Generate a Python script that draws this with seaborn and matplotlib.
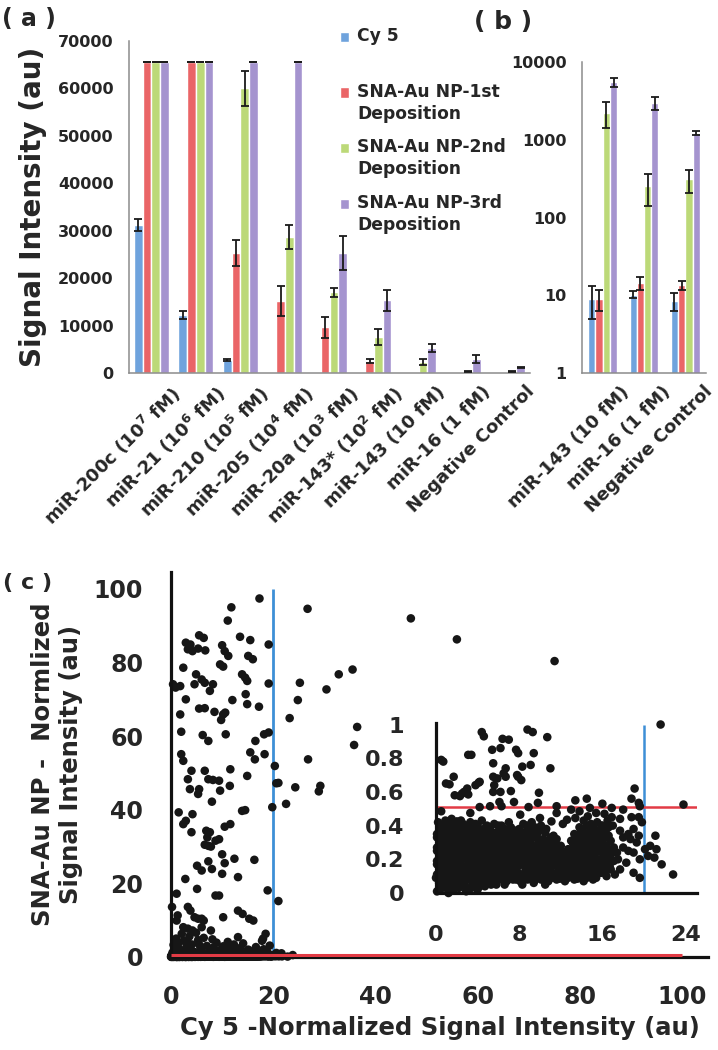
import numpy as np
import pandas as pd
import matplotlib
matplotlib.use("Agg")
import matplotlib.pyplot as plt
from matplotlib.ticker import FuncFormatter, NullLocator
from matplotlib.transforms import ScaledTranslation
import seaborn as sns

# ---------------- Panel (a) data ----------------
cats_a = [r'miR-200c (10$^{\mathbf{7}}$ fM)', r'miR-21 (10$^{\mathbf{6}}$ fM)',
          r'miR-210 (10$^{\mathbf{5}}$ fM)', r'miR-205 (10$^{\mathbf{4}}$ fM)',
          r'miR-20a (10$^{\mathbf{3}}$ fM)', r'miR-143* (10$^{\mathbf{2}}$ fM)',
          'miR-143 (10 fM)', 'miR-16 (1 fM)', 'Negative Control']
series = ['Cy 5', 'SNA-Au NP-1st Deposition', 'SNA-Au NP-2nd Deposition',
          'SNA-Au NP-3rd Deposition']
legend_labels = ['Cy 5\n ', 'SNA-Au NP-1st\nDeposition', 'SNA-Au NP-2nd\nDeposition',
                 'SNA-Au NP-3rd\nDeposition']
colors = ['#6fa3dd', '#ea6567', '#bcd978', '#a594cf']

nan = np.nan
cy5_a = [31200, 12200, 2800, 150, 200, 200, 100, 10, 8]
dep1_a = [65535, 65535, 25300, 15200, 9600, 2500, 120, 15, 13]
dep2_a = [65535, 65535, 60000, 28600, 17000, 7600, 2300, 250, 300]
dep3_a = [65535, 65535, 65535, 65535, 25300, 15300, 5300, 2900, 1200]
cy5_a_err = [1300, 800, 250, nan, nan, nan, nan, nan, nan]
dep1_a_err = [0, 0, 2800, 3200, 2300, 450, nan, nan, nan]
dep2_a_err = [0, 0, 3600, 2500, 1000, 1600, 700, 100, 100]
dep3_a_err = [0, 0, 0, 0, 3500, 2300, 850, 800, 100]
yticks_a = [0, 10000, 20000, 30000, 40000, 50000, 60000, 70000]

# ---------------- Panel (b) data ----------------
cats_b = ['miR-143 (10 fM)', 'miR-16 (1 fM)', 'Negative Control']
cy5_b = [9.0, 10.2, 8.4]
dep1_b = [9.0, 14.4, 13.6]
dep2_b = [2230, 252, 309]
dep3_b = [5500, 2990, 1230]
cy5_b_err = [4.0, 1.0, 2.2]
dep1_b_err = [2.8, 2.8, 1.8]
dep2_b_err = [800, 110, 100]
dep3_b_err = [800, 600, 70]
yticks_b = [1, 10, 100, 1000, 10000]

# ---------------- Panel (c) data ----------------
cy5_threshold = 20
sna_threshold = 0.51

outlier_pts = [
    (17.3, 97.4), (11.8, 95.0), (11.1, 91.4), (26.7, 94.6), (46.9, 92.0), (55.9, 86.3),
    (75.0, 80.4), (5.5, 87.4), (6.4, 86.7), (13.5, 87.0), (15.5, 86.1), (19.1, 84.9),
    (2.9, 85.4), (3.8, 84.9), (3.3, 83.6), (4.2, 83.1), (5.3, 83.8), (6.7, 83.3),
    (10.0, 84.7), (10.5, 83.1), (11.2, 81.8), (9.6, 79.5), (10.2, 78.9), (15.1, 81.8),
    (16.0, 80.9), (2.4, 78.6), (0.4, 74.1), (0.9, 73.2), (1.8, 73.6), (4.9, 76.8),
    (4.6, 74.1), (2.9, 70.0), (6.0, 75.4), (6.6, 74.5), (7.6, 72.3), (8.2, 74.1),
    (13.9, 76.8), (14.5, 75.9), (14.9, 75.0), (12.0, 69.8), (14.9, 68.7), (14.6, 71.4),
    (17.2, 68.0), (19.1, 74.3), (25.2, 74.5), (24.8, 69.8), (30.4, 72.7), (32.8, 76.8),
    (35.5, 78.1), (23.2, 64.9), (1.8, 65.9), (5.5, 67.5), (6.6, 67.6), (8.5, 66.6),
    (10.2, 65.9), (10.6, 66.4), (9.8, 64.4), (10.7, 60.5), (2.0, 61.2), (6.2, 60.3),
    (7.3, 58.7), (16.5, 58.7), (18.2, 60.5), (19.1, 61.0), (36.4, 62.5), (35.8, 57.6),
    (2.0, 55.1), (2.4, 53.3), (15.5, 55.6), (16.4, 53.7), (18.3, 55.1), (20.3, 51.9),
    (20.6, 47.2), (21.0, 47.3), (24.3, 46.1), (29.2, 46.5), (28.9, 45.0), (26.8, 53.7),
    (11.6, 51.0), (4.0, 50.6), (3.3, 48.3), (3.7, 45.6), (6.6, 50.6), (7.3, 48.3),
    (8.2, 48.1), (9.4, 47.9), (8.0, 42.2), (11.5, 46.5), (9.6, 45.2), (14.9, 49.2),
    (5.5, 45.6), (5.3, 44.3), (19.8, 40.7), (22.5, 41.6), (13.9, 39.7), (14.5, 39.9),
    (1.5, 39.3), (2.9, 37.0), (2.4, 36.1), (4.0, 33.9), (4.2, 38.8), (6.9, 34.3),
    (7.6, 33.9), (7.1, 32.5), (6.6, 30.5), (7.3, 30.2), (7.8, 30.0), (8.7, 31.6),
    (9.4, 32.0), (10.5, 35.4), (11.6, 36.1), (10.0, 27.9), (16.3, 26.4), (12.4, 26.7),
    (10.5, 25.5), (10.0, 22.6), (7.3, 26.0), (5.1, 24.8), (6.0, 23.5), (13.1, 21.7),
    (8.0, 23.9), (2.8, 21.2), (1.1, 17.2), (8.7, 16.7), (9.4, 16.7), (5.1, 18.5),
    (18.9, 18.1), (21.0, 15.2), (0.2, 13.6), (1.3, 11.3), (1.1, 9.9), (3.3, 13.6),
    (3.8, 12.6), (4.6, 10.8), (5.3, 10.4), (6.0, 10.4), (6.4, 9.9), (10.2, 10.8),
    (13.1, 12.6), (14.0, 11.7), (15.3, 10.4), (16.1, 9.9), (2.4, 8.1), (3.3, 7.7),
    (4.2, 7.2), (6.0, 8.1), (18.5, 6.3), (18.0, 5.0), (7.8, 7.2), (13.1, 5.4),
]

band_pts = [
    (0.3, 1.2), (0.8, 2.4), (1.4, 3.6), (1.9, 1.6), (2.5, 4.4), (3.0, 2.7), (3.6, 5.6),
    (4.1, 3.4), (4.7, 1.3), (5.3, 4.6), (5.8, 2.2), (6.4, 5.2), (7.0, 3.0), (7.7, 1.7),
    (8.3, 2.6), (8.9, 3.9), (9.6, 1.9), (10.2, 2.9), (10.9, 1.4), (11.6, 2.3), (12.3, 3.4),
    (12.9, 1.6), (13.6, 2.5), (14.3, 1.3), (15.1, 2.0), (15.9, 1.5), (16.6, 2.7),
    (17.3, 1.2), (18.1, 2.1), (18.8, 1.4), (19.3, 3.1), (2.1, 6.3), (1.0, 5.0), (4.9, 6.6),
    (8.1, 4.8), (11.1, 4.1), (14.1, 3.7), (17.8, 4.4), (20.6, 1.1), (21.6, 1.0),
    (1.7, 2.0), (2.8, 1.1), (3.9, 1.9), (6.1, 1.2), (9.2, 1.1), (12.0, 1.1), (15.6, 1.1),
    (5.6, 3.2), (0.5, 3.3), (3.3, 3.9),
]

upper_pts = [
    (4.4, 0.955), (4.6, 0.93), (8.8, 0.97), (9.3, 0.955), (10.7, 0.925), (6.4, 0.915),
    (7.0, 0.91), (6.2, 0.86), (5.4, 0.85), (7.7, 0.85), (7.9, 0.83), (9.4, 0.83),
    (3.1, 0.82), (3.4, 0.82), (0.5, 0.79), (0.7, 0.78), (8.3, 0.75), (11.0, 0.74),
    (5.5, 0.77), (6.5, 0.71), (6.7, 0.69), (7.9, 0.69), (8.2, 0.67), (1.7, 0.69),
    (0.96, 0.65), (1.3, 0.645), (4.1, 0.655), (3.8, 0.64), (2.7, 0.60), (3.1, 0.585),
    (2.3, 0.575), (5.5, 0.60), (7.2, 0.605), (9.9, 0.595), (19.1, 0.62), (9.1, 0.76),
    (6.7, 0.74), (1.8, 0.58), (2.5, 0.59), (3.0, 0.62), (4.2, 0.66), (5.5, 0.69),
    (5.6, 0.64), (5.9, 0.68), (7.8, 0.70), (6.2, 0.60), (7.5, 0.54), (13.4, 0.55),
    (14.5, 0.56), (18.8, 0.56), (23.8, 0.525), (0.5, 0.485), (4.2, 0.51), (5.2, 0.515),
    (6.1, 0.54), (6.3, 0.515), (8.9, 0.51), (9.8, 0.535), (11.6, 0.515), (16.0, 0.53),
    (16.9, 0.505), (18.0, 0.495), (19.5, 0.535), (19.6, 0.515), (13.0, 0.495),
    (13.8, 0.485), (14.8, 0.505), (3.3, 0.475), (8.1, 0.465), (11.6, 0.475), (1.5, 0.44),
    (2.0, 0.425), (10.0, 0.445), (11.1, 0.425),
]

core_pts = [
    (0.1, 0.01), (0.6, 0.03), (1.2, 0.00), (1.7, 0.02), (2.3, 0.04), (2.9, 0.01), (3.4, 0.03),
    (4.0, 0.02), (4.7, 0.04), (5.3, 0.05),
    (0.3, 0.06), (0.9, 0.07), (1.5, 0.05), (2.0, 0.07), (2.6, 0.06), (3.1, 0.08), (3.7, 0.06),
    (4.3, 0.07), (4.9, 0.08), (5.5, 0.07), (6.1, 0.08), (6.8, 0.07), (7.4, 0.08), (8.1, 0.07),
    (8.8, 0.08), (9.4, 0.06), (10.1, 0.08), (10.8, 0.07), (11.6, 0.08), (12.4, 0.07),
    (13.3, 0.08), (14.2, 0.07), (15.1, 0.08),
    (0.1, 0.11), (0.7, 0.10), (1.3, 0.12), (1.8, 0.10), (2.4, 0.11), (3.0, 0.10), (3.5, 0.12),
    (4.1, 0.11), (4.6, 0.10), (5.2, 0.12), (5.8, 0.11), (6.4, 0.10), (7.0, 0.12), (7.6, 0.11),
    (8.3, 0.10), (8.9, 0.12), (9.5, 0.11), (10.1, 0.10), (10.7, 0.12), (11.3, 0.11),
    (12.0, 0.10), (12.6, 0.12), (13.2, 0.11), (13.8, 0.10), (14.5, 0.12), (15.1, 0.11),
    (15.8, 0.12),
    (0.4, 0.14), (1.0, 0.15), (1.6, 0.14), (2.1, 0.16), (2.7, 0.14), (3.3, 0.15), (3.8, 0.14),
    (4.4, 0.16), (5.0, 0.15), (5.5, 0.14), (6.1, 0.16), (6.7, 0.15), (7.3, 0.14), (7.9, 0.16),
    (8.6, 0.15), (9.2, 0.14), (9.8, 0.16), (10.4, 0.15), (11.0, 0.14), (11.7, 0.16),
    (12.3, 0.15), (12.9, 0.14), (13.5, 0.16), (14.1, 0.15), (14.8, 0.14), (15.4, 0.16),
    (16.1, 0.15), (16.8, 0.14),
    (0.1, 0.19), (0.7, 0.18), (1.3, 0.20), (1.9, 0.18), (2.4, 0.19), (3.0, 0.20), (3.6, 0.18),
    (4.1, 0.19), (4.7, 0.20), (5.3, 0.18), (5.9, 0.19), (6.4, 0.20), (7.0, 0.18), (7.6, 0.19),
    (8.2, 0.20), (8.9, 0.18), (9.5, 0.19), (10.1, 0.20), (10.7, 0.18), (11.3, 0.19),
    (12.0, 0.20), (12.6, 0.18), (13.2, 0.19), (13.9, 0.20), (14.5, 0.18), (15.1, 0.19),
    (15.8, 0.20), (16.4, 0.18), (17.1, 0.19),
    (0.4, 0.22), (1.0, 0.23), (1.6, 0.22), (2.2, 0.24), (2.7, 0.22), (3.3, 0.23), (3.9, 0.22),
    (4.4, 0.24), (5.0, 0.23), (5.6, 0.22), (6.2, 0.24), (6.7, 0.23), (7.3, 0.22), (7.9, 0.24),
    (8.5, 0.23), (9.2, 0.22), (9.8, 0.24), (10.4, 0.23), (11.0, 0.22), (11.7, 0.24),
    (12.3, 0.23), (12.9, 0.22), (13.5, 0.24), (14.2, 0.23), (14.8, 0.22), (15.4, 0.24),
    (16.1, 0.23), (16.7, 0.22), (17.4, 0.24),
    (0.1, 0.27), (0.7, 0.26), (1.3, 0.28), (1.9, 0.26), (2.5, 0.27), (3.0, 0.28), (3.6, 0.26),
    (4.2, 0.27), (4.7, 0.28), (5.3, 0.26), (5.9, 0.27), (6.5, 0.28), (7.0, 0.26), (7.6, 0.27),
    (8.2, 0.28), (8.8, 0.26), (9.5, 0.27), (10.1, 0.28), (10.7, 0.26), (11.4, 0.27),
    (12.0, 0.28), (12.7, 0.26), (13.3, 0.27), (13.9, 0.28), (14.5, 0.26), (15.2, 0.27),
    (15.8, 0.28), (16.5, 0.26), (17.1, 0.27),
    (0.4, 0.30), (1.0, 0.31), (1.6, 0.30), (2.2, 0.32), (2.8, 0.30), (3.3, 0.31), (3.9, 0.30),
    (4.5, 0.32), (5.1, 0.31), (5.6, 0.30), (6.2, 0.32), (6.8, 0.31), (7.4, 0.30), (8.0, 0.32),
    (8.5, 0.31), (9.1, 0.30), (9.8, 0.32), (10.4, 0.31), (11.0, 0.30), (11.6, 0.32),
    (13.0, 0.31), (13.6, 0.30), (14.2, 0.32), (14.8, 0.31), (15.5, 0.30), (16.1, 0.32),
    (16.8, 0.31),
    (0.1, 0.35), (0.7, 0.34), (1.3, 0.36), (1.9, 0.34), (2.5, 0.35), (3.1, 0.36), (3.7, 0.34),
    (4.3, 0.35), (4.9, 0.36), (5.5, 0.34), (6.1, 0.35), (6.7, 0.36), (7.3, 0.34), (7.9, 0.35),
    (8.5, 0.36), (9.1, 0.34), (9.7, 0.35), (10.5, 0.36), (11.3, 0.34), (13.3, 0.35),
    (13.9, 0.36), (14.6, 0.34), (15.2, 0.35), (15.9, 0.36), (16.6, 0.34),
    (0.4, 0.38), (1.0, 0.39), (1.6, 0.38), (2.2, 0.40), (2.8, 0.38), (3.4, 0.39), (4.0, 0.40),
    (4.6, 0.38), (5.2, 0.39), (6.0, 0.40), (6.6, 0.38), (7.2, 0.39), (8.0, 0.38), (8.8, 0.40),
    (9.5, 0.39), (10.6, 0.38), (13.8, 0.39), (14.5, 0.40), (15.2, 0.38), (15.9, 0.40),
    (16.6, 0.39),
    (0.2, 0.42), (0.9, 0.43), (1.6, 0.42), (2.4, 0.43), (3.3, 0.42), (4.4, 0.43), (7.0, 0.42),
    (9.2, 0.42), (12.2, 0.41), (14.2, 0.43), (15.5, 0.42), (16.5, 0.43),
]

core_pts_2 = [
    (0.4, 0.04), (1.0, 0.03), (1.6, 0.05), (2.2, 0.03), (2.8, 0.04), (3.5, 0.05), (4.2, 0.04),
    (5.8, 0.05), (6.6, 0.05), (8.3, 0.05), (10.5, 0.05),
    (0.0, 0.09), (0.6, 0.08), (1.2, 0.09), (1.8, 0.085), (2.3, 0.09), (2.9, 0.08), (3.5, 0.09),
    (4.0, 0.085), (4.6, 0.09), (5.2, 0.08), (5.8, 0.09), (6.4, 0.085), (7.1, 0.09), (7.7, 0.08),
    (8.4, 0.09), (9.1, 0.085), (9.8, 0.09), (10.4, 0.08), (11.1, 0.09), (11.9, 0.085),
    (12.7, 0.09), (13.6, 0.085), (14.5, 0.09), (15.4, 0.09),
    (0.4, 0.13), (1.0, 0.12), (1.6, 0.13), (2.1, 0.125), (2.7, 0.13), (3.2, 0.12), (3.8, 0.13),
    (4.3, 0.125), (4.9, 0.13), (5.5, 0.12), (6.1, 0.13), (6.7, 0.125), (7.3, 0.13), (7.9, 0.12),
    (8.6, 0.13), (9.2, 0.125), (9.8, 0.13), (10.4, 0.12), (11.0, 0.13), (11.7, 0.125),
    (12.3, 0.13), (12.9, 0.12), (13.5, 0.13), (14.2, 0.125), (14.8, 0.13), (15.5, 0.125),
    (16.2, 0.13),
    (0.1, 0.17), (0.7, 0.16), (1.3, 0.17), (1.9, 0.165), (2.4, 0.17), (3.0, 0.16), (3.6, 0.17),
    (4.1, 0.165), (4.7, 0.17), (5.3, 0.16), (5.8, 0.17), (6.4, 0.165), (7.0, 0.17), (7.6, 0.16),
    (8.3, 0.17), (8.9, 0.165), (9.5, 0.17), (10.1, 0.16), (10.7, 0.17), (11.4, 0.165),
    (12.0, 0.17), (12.6, 0.16), (13.2, 0.17), (13.8, 0.165), (14.5, 0.17), (15.1, 0.16),
    (15.8, 0.17), (16.5, 0.165),
    (0.4, 0.21), (1.0, 0.20), (1.6, 0.21), (2.2, 0.205), (2.7, 0.21), (3.3, 0.20), (3.9, 0.21),
    (4.4, 0.205), (5.0, 0.21), (5.6, 0.20), (6.2, 0.21), (6.7, 0.205), (7.3, 0.21), (7.9, 0.20),
    (8.5, 0.21), (9.2, 0.205), (9.8, 0.21), (10.4, 0.20), (11.0, 0.21), (11.7, 0.205),
    (12.3, 0.21), (12.9, 0.20), (13.5, 0.21), (14.2, 0.205), (14.8, 0.21), (15.4, 0.20),
    (16.1, 0.21), (16.8, 0.205),
    (0.1, 0.25), (0.7, 0.24), (1.3, 0.25), (1.9, 0.245), (2.5, 0.25), (3.0, 0.24), (3.6, 0.25),
    (4.2, 0.245), (4.7, 0.25), (5.3, 0.24), (5.9, 0.25), (6.5, 0.245), (7.0, 0.25), (7.6, 0.24),
    (8.2, 0.25), (8.8, 0.245), (9.5, 0.25), (10.1, 0.24), (10.7, 0.25), (11.4, 0.245),
    (12.0, 0.25), (12.7, 0.24), (13.3, 0.25), (13.9, 0.245), (14.5, 0.25), (15.2, 0.24),
    (15.8, 0.25), (16.5, 0.245),
    (0.4, 0.29), (1.0, 0.28), (1.6, 0.29), (2.2, 0.285), (2.8, 0.29), (3.3, 0.28), (3.9, 0.29),
    (4.5, 0.285), (5.1, 0.29), (5.6, 0.28), (6.2, 0.29), (6.8, 0.285), (7.4, 0.29), (8.0, 0.28),
    (8.5, 0.29), (9.1, 0.285), (9.8, 0.29), (10.4, 0.28), (11.0, 0.29), (11.6, 0.285),
    (13.2, 0.29), (13.8, 0.28), (14.4, 0.29), (15.0, 0.285), (15.7, 0.29), (16.3, 0.28),
    (0.1, 0.33), (0.7, 0.32), (1.3, 0.33), (1.9, 0.325), (2.5, 0.33), (3.1, 0.32), (3.7, 0.33),
    (4.3, 0.325), (4.9, 0.33), (5.5, 0.32), (6.1, 0.33), (6.7, 0.325), (7.3, 0.33), (7.9, 0.32),
    (8.5, 0.33), (9.1, 0.325), (9.7, 0.33), (10.3, 0.32), (11.0, 0.33), (13.5, 0.325),
    (14.1, 0.33), (14.8, 0.32), (15.4, 0.33), (16.1, 0.325),
    (0.4, 0.37), (1.0, 0.36), (1.6, 0.37), (2.2, 0.365), (2.8, 0.37), (3.4, 0.36), (4.0, 0.37),
    (4.6, 0.365), (5.2, 0.37), (5.8, 0.36), (6.4, 0.37), (7.0, 0.365), (7.6, 0.37), (8.2, 0.36),
    (8.8, 0.37), (9.4, 0.365), (10.0, 0.37), (14.1, 0.37), (14.8, 0.365), (15.5, 0.37),
    (16.2, 0.36),
    (0.7, 0.40), (1.3, 0.41), (2.0, 0.40), (2.6, 0.41), (3.1, 0.40), (3.8, 0.41), (4.9, 0.40),
    (5.6, 0.41), (6.3, 0.40), (8.4, 0.41), (10.1, 0.40), (14.9, 0.41), (16.0, 0.40),
]

right_pts = [
    (16.4, 0.38), (17.0, 0.40), (17.7, 0.37), (18.0, 0.33), (18.5, 0.35), (19.0, 0.38),
    (19.5, 0.45), (19.8, 0.42), (19.3, 0.30), (19.0, 0.24), (19.6, 0.20), (20.1, 0.26),
    (20.6, 0.28), (21.1, 0.34), (20.4, 0.22), (21.0, 0.21), (21.2, 0.26), (21.7, 0.17),
    (22.8, 0.11), (19.6, 0.09), (19.0, 0.12), (18.3, 0.18), (17.7, 0.14), (17.5, 0.20),
    (16.7, 0.16), (17.0, 0.24), (16.4, 0.28), (18.0, 0.27), (18.7, 0.32), (15.9, 0.12),
    (16.4, 0.10), (17.2, 0.11), (18.5, 0.25), (19.5, 0.34), (18.8, 0.45), (17.7, 0.44),
    (16.9, 0.45), (16.2, 0.47), (15.4, 0.475), (14.6, 0.455), (13.4, 0.445), (12.6, 0.435),
]

scatter_df = pd.DataFrame(outlier_pts + band_pts + upper_pts + core_pts + core_pts_2
                          + right_pts, columns=['cy5', 'sna'])

# ---------------- Styling ----------------
sns.set_theme(style='white')
plt.rcParams['font.family'] = ['DejaVu Sans']
plt.rcParams['font.weight'] = 'bold'
plt.rcParams['axes.labelweight'] = 'bold'
plt.rcParams['mathtext.default'] = 'bf'

W, H = 718, 1050
fig = plt.figure(figsize=(W / 100, H / 100), dpi=100)
fig.patch.set_facecolor('white')


def fx(px):
    return px / W


def fy(py):
    return 1 - py / H


ax_a = fig.add_axes([fx(129), fy(373), fx(530) - fx(129), fy(41) - fy(373)])
ax_b = fig.add_axes([fx(582), fy(373), fx(706) - fx(582), fy(62) - fy(373)])
ax_c = fig.add_axes([fx(171), fy(957), fx(708) - fx(171), fy(572) - fy(957)])
ax_i = fig.add_axes([fx(436), fy(893), fx(697) - fx(436), fy(723) - fy(893)])


def long_df(cats, vals_list):
    rows = []
    for s, vals in zip(series, vals_list):
        for c, v in zip(cats, vals):
            rows.append((c, s, v))
    return pd.DataFrame(rows, columns=['category', 'series', 'value'])


def add_errs(ax, err_list):
    for cont, errs in zip(ax.containers, err_list):
        for bar, e in zip(cont.patches, errs):
            if np.isnan(e):
                continue
            ax.errorbar(bar.get_x() + bar.get_width() / 2, bar.get_y() + bar.get_height(),
                        yerr=e, fmt='none', ecolor='#1a1a1a', elinewidth=1.3,
                        capsize=2.6, capthick=1.3, zorder=5)


def style_bar_axes(ax, cats):
    n = len(cats)
    for s in ['top', 'right']:
        ax.spines[s].set_visible(False)
    for s in ['left', 'bottom']:
        ax.spines[s].set_color('#8c8c8c')
        ax.spines[s].set_linewidth(1.1)
    ax.set_xlim(-0.5, n - 0.5)
    ax.set_xticks(np.arange(n + 1) - 0.5, minor=True)
    ax.tick_params(axis='x', which='minor', length=6, width=1.1, color='#8c8c8c', direction='out')
    ax.tick_params(axis='x', which='major', length=0, pad=7)
    ax.tick_params(axis='y', which='major', length=6, width=1.1, color='#8c8c8c',
                   direction='out', labelsize=11.5, pad=5)
    ax.set_xlabel('')
    ax.grid(False)
    ax.set_xticks(range(n))
    ax.set_xticklabels(cats, rotation=45, ha='right', va='top', rotation_mode='anchor',
                       fontsize=13)
    shift = ScaledTranslation(0.18, 0, fig.dpi_scale_trans)
    for lab in ax.get_xticklabels():
        lab.set_transform(lab.get_transform() + shift)


# ---------------- Panel (a) ----------------
df_a = long_df(cats_a, [cy5_a, dep1_a, dep2_a, dep3_a])
sns.barplot(data=df_a, x='category', y='value', hue='series', order=cats_a, hue_order=series,
            palette=colors, width=0.78, saturation=1, errorbar=None, ax=ax_a, legend=True)
add_errs(ax_a, [cy5_a_err, dep1_a_err, dep2_a_err, dep3_a_err])
style_bar_axes(ax_a, cats_a)
ax_a.set_ylim(0, 70000)
ax_a.set_yticks(yticks_a)
ax_a.set_ylabel('Signal Intensity (au)', fontsize=20, labelpad=8)

old = ax_a.get_legend()
handles = old.legend_handles
old.remove()
leg = ax_a.legend(handles, legend_labels, loc='upper left',
                  bbox_to_anchor=(fx(340), fy(27)), bbox_transform=fig.transFigure,
                  frameon=False, fontsize=12.3, handlelength=0.55, handleheight=0.55,
                  handletextpad=0.45, labelspacing=0.9, borderpad=0, borderaxespad=0)
for t in leg.get_texts():
    t.set_fontweight('bold')
    t.set_linespacing(1.3)
for h in leg.legend_handles:
    h.set_y(h.get_y() + 8)

# ---------------- Panel (b) ----------------
df_b = long_df(cats_b, [cy5_b, dep1_b, dep2_b, dep3_b])
sns.barplot(data=df_b, x='category', y='value', hue='series', order=cats_b, hue_order=series,
            palette=colors, width=0.7, saturation=1, errorbar=None, ax=ax_b, legend=False)
add_errs(ax_b, [cy5_b_err, dep1_b_err, dep2_b_err, dep3_b_err])
ax_b.set_yscale('log')
style_bar_axes(ax_b, cats_b)
ax_b.set_ylim(1, 10000)
ax_b.set_yticks(yticks_b)
ax_b.yaxis.set_minor_locator(NullLocator())
ax_b.yaxis.set_major_formatter(FuncFormatter(lambda v, p: f'{v:g}'))
ax_b.set_ylabel('')

# ---------------- Panel (c) ----------------
blue_line = '#3d8fd6'
red_line = '#e23b45'
dot = '#161616'
dot_size = 38
ax_c.vlines(cy5_threshold, 0, 100, color=blue_line, lw=2, zorder=1)
ax_c.hlines(sna_threshold, 0, 100, color=red_line, lw=2.2, zorder=3)
sns.scatterplot(data=scatter_df, x='cy5', y='sna', ax=ax_c, color=dot, s=dot_size,
                edgecolor='none', linewidth=0, legend=False, clip_on=False, zorder=2)
ax_c.set_xlim(0, 105)
ax_c.set_ylim(0, 104.6)
ax_c.set_xticks([0, 20, 40, 60, 80, 100])
ax_c.set_yticks([0, 20, 40, 60, 80, 100])
for s in ['top', 'right']:
    ax_c.spines[s].set_visible(False)
for s in ['left', 'bottom']:
    ax_c.spines[s].set_color('#111111')
    ax_c.spines[s].set_linewidth(2.3)
ax_c.tick_params(axis='both', length=7, width=2.3, color='#111111', direction='out',
                 labelsize=17, pad=13)
ax_c.set_xlabel('Cy 5 -Normalized Signal Intensity (au)', fontsize=17.5, labelpad=5)
ax_c.set_ylabel('SNA-Au NP -  Normlized\nSignal Intensity (au)', fontsize=17.5, labelpad=8)
ax_c.set_facecolor('none')
ax_c.grid(False)

inset_df = scatter_df[(scatter_df['sna'] <= 1.0) & (scatter_df['cy5'] <= 25)]
ax_i.vlines(cy5_threshold, 0, 1, color=blue_line, lw=1.8, zorder=1)
ax_i.axhline(sna_threshold, color=red_line, lw=1.8, zorder=1)
sns.scatterplot(data=inset_df, x='cy5', y='sna', ax=ax_i, color=dot, s=dot_size,
                edgecolor='none', linewidth=0, legend=False, clip_on=False, zorder=2)
ax_i.set_xlim(0, 25.1)
ax_i.set_ylim(0, 1.009)
ax_i.set_xticks([0, 8, 16, 24])
ax_i.set_yticks([0, 0.2, 0.4, 0.6, 0.8, 1.0])
ax_i.yaxis.set_major_formatter(FuncFormatter(lambda v, p: f'{v:g}'))
for s in ['top', 'right']:
    ax_i.spines[s].set_visible(False)
for s in ['left', 'bottom']:
    ax_i.spines[s].set_color('#111111')
    ax_i.spines[s].set_linewidth(2.3)
ax_i.tick_params(axis='both', length=7, width=2.3, color='#111111', direction='out',
                 labelsize=16, pad=16)
ax_i.set_xlabel('')
ax_i.set_ylabel('')
ax_i.set_facecolor('none')
ax_i.grid(False)

# ---------------- Panel labels ----------------
fig.text(fx(2), fy(19), '( a )', fontsize=17, fontweight='bold', ha='left', va='center')
fig.text(fx(503), fy(22), '( b )', fontsize=18, fontweight='bold', ha='center', va='center')
fig.text(fx(3), fy(583), '( c )', fontsize=16, fontweight='bold', ha='left', va='center')

fig.savefig('out.png', dpi=100)
